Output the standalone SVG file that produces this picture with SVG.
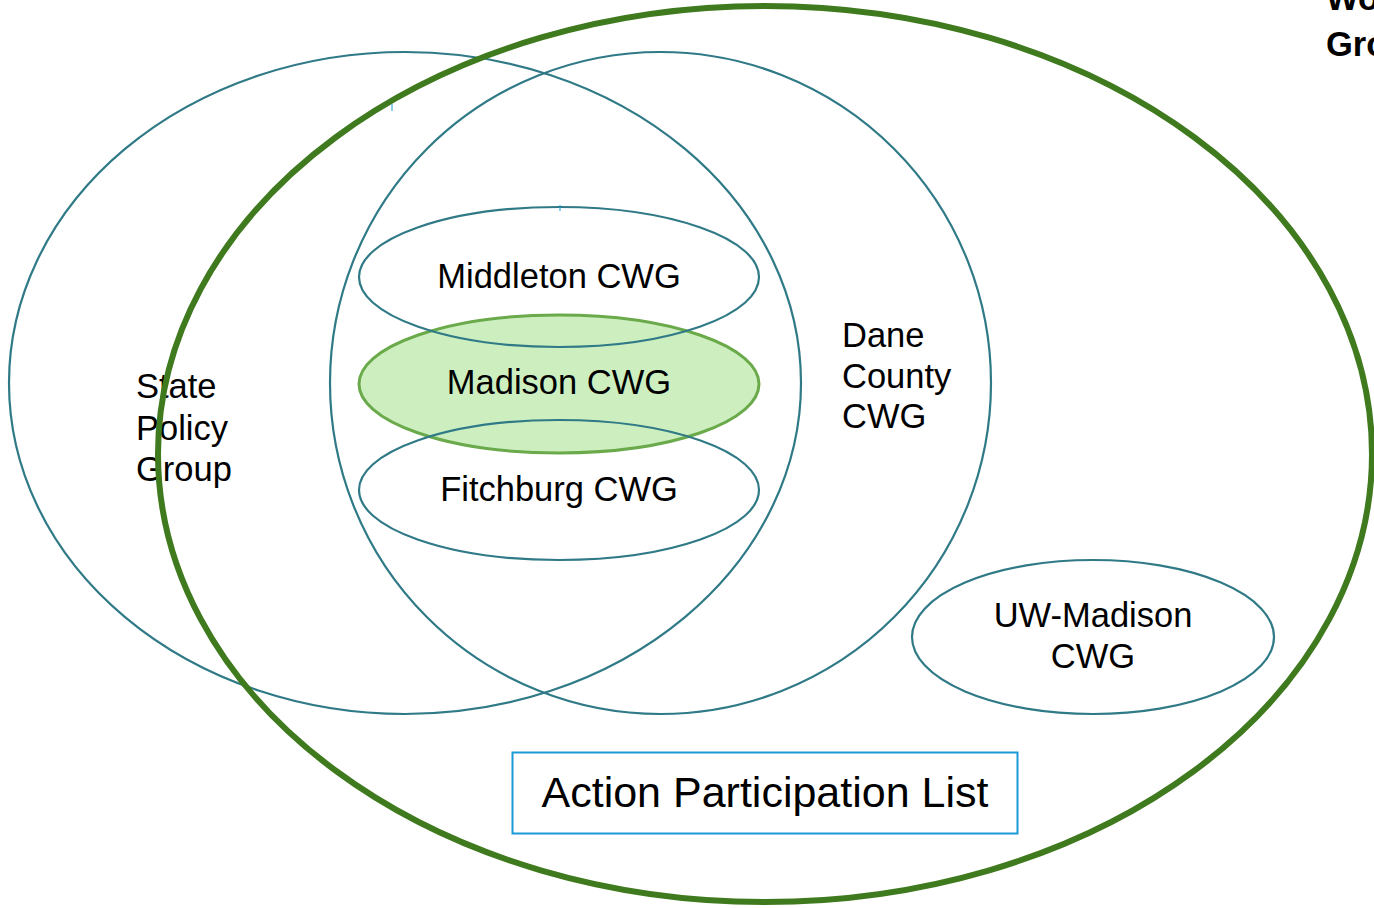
<svg xmlns="http://www.w3.org/2000/svg" width="1374" height="908" viewBox="0 0 1374 908">
<style>
.ring{fill:none;stroke:#2f7a86;stroke-width:2.2}
.t{font-family:"Liberation Sans",Arial,sans-serif;font-size:34.5px;fill:#000}
.c{text-anchor:middle}
.big{font-size:43px}
.b{font-weight:bold}
</style>
<rect width="1374" height="908" fill="#fff"/>
<g id="state-policy-group">
<ellipse class="ring" cx="405" cy="383" rx="396" ry="331"/>
<text class="t" x="136" y="398">State</text>
<text class="t" x="136" y="440">Policy</text>
<text class="t" x="136" y="481">Group</text>
</g>
<g id="dane-county-cwg">
<ellipse class="ring" cx="660.5" cy="383" rx="330.5" ry="331"/>
<text class="t" x="842" y="347">Dane</text>
<text class="t" x="842" y="388">County</text>
<text class="t" x="842" y="428">CWG</text>
</g>
<g id="working-group">
<ellipse cx="765" cy="454" rx="607" ry="448" fill="none" stroke="#3f7a1e" stroke-width="6"/>
<text class="t b" x="1326" y="10">Working</text>
<text class="t b" x="1326" y="56">Group</text>
</g>
<g id="madison-cwg">
<ellipse cx="559" cy="384" rx="200" ry="69" fill="#cdefc0" stroke="#6aaa4a" stroke-width="3"/>
<text class="t c" x="559" y="394">Madison CWG</text>
</g>
<g id="middleton-cwg">
<ellipse class="ring" cx="559" cy="277" rx="200" ry="70"/>
<text class="t c" x="559" y="288">Middleton CWG</text>
</g>
<g id="fitchburg-cwg">
<ellipse class="ring" cx="559" cy="490" rx="200" ry="70"/>
<text class="t c" x="559" y="501">Fitchburg CWG</text>
</g>
<g id="uw-madison-cwg">
<ellipse class="ring" cx="1093" cy="637" rx="181" ry="77"/>
<text class="t c" x="1093" y="627">UW-Madison</text>
<text class="t c" x="1093" y="668">CWG</text>
</g>
<g id="action-participation-list">
<rect x="512.5" y="752.5" width="505" height="81" fill="#fff" stroke="#1a9ad6" stroke-width="2"/>
<text class="t c big" x="765" y="807">Action Participation List</text>
</g>
<g id="connectors">
<line x1="392" y1="104" x2="392" y2="111" stroke="#1a9ad6" stroke-width="1"/>
<line x1="560" y1="205" x2="560" y2="211" stroke="#1a9ad6" stroke-width="1"/>
</g>
</svg>
